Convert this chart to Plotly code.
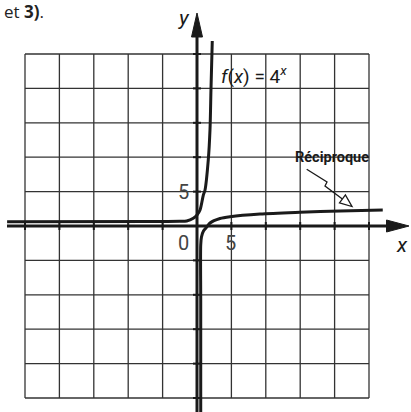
import plotly.graph_objects as go

# ---- data (1 grid cell = 5 units) ----
grid_ticks = [-25, -20, -15, -10, -5, 0, 5, 10, 15, 20, 25]

exp_x = [-27.6, -6.8, -2.5, -1.5, -0.54, 0.0, 0.44, 0.92, 1.16, 1.64, 1.89, 2.03, 2.22]
exp_y = [0.63, 0.65, 0.68, 0.73, 1.12, 1.6, 2.33, 4.5, 5.2, 9.6, 14.0, 19.8, 26.9]

rec_x = [0.54, 0.54, 0.54, 0.65, 0.94, 1.41, 1.89, 3.34, 4.8, 9.16, 14.97, 20.8, 27.0]
rec_y = [-27.5, -10.8, -2.76, -1.6, -0.73, -0.15, 0.44, 1.09, 1.35, 1.74, 1.99, 2.18, 2.33]

tick_labels = [("5", -2.0, 5.0), ("0", -2.0, -2.5), ("5", 4.9, -2.5)]

W, H = 411, 412
X0PX, Y0PX, PXU = 197.0, 226.0, 6.88  # origin pixel and pixels per unit
xr = [-X0PX / PXU, (W - X0PX) / PXU]
yr = [-(H - Y0PX) / PXU, Y0PX / PXU]


def px2x(p):
    return (p - X0PX) / PXU


def py2y(p):
    return (Y0PX - p) / PXU


INK = "#1a1a1a"
GRID = "#333333"
NARROW = "Roboto, Liberation Sans, sans-serif"

fig = go.Figure()

shapes = []
# grid
for t in grid_ticks:
    shapes.append(dict(type="line", x0=t, x1=t, y0=grid_ticks[0], y1=grid_ticks[-1],
                       line=dict(color=GRID, width=1.3), layer="below"))
    shapes.append(dict(type="line", y0=t, y1=t, x0=grid_ticks[0], x1=grid_ticks[-1],
                       line=dict(color=GRID, width=1.3), layer="below"))

# axes
shapes.append(dict(type="line", x0=px2x(7), x1=px2x(392), y0=0, y1=0,
                   line=dict(color=INK, width=3)))
shapes.append(dict(type="line", x0=0, x1=0, y0=yr[0] - 1, y1=py2y(30),
                   line=dict(color=INK, width=3)))
# small ticks on axes
for t in grid_ticks:
    if t == 0:
        continue
    shapes.append(dict(type="line", x0=t, x1=t, y0=py2y(222), y1=py2y(230),
                       line=dict(color=INK, width=2)))
    shapes.append(dict(type="line", y0=t, y1=t, x0=px2x(193), x1=px2x(201),
                       line=dict(color=INK, width=2)))


def tri(pts):
    return "M " + " L ".join(f"{px2x(a)},{py2y(b)}" for a, b in pts) + " Z"


# arrowheads (filled)
shapes.append(dict(type="path", path=tri([(386.5, 220), (409, 226), (386.5, 232)]),
                   fillcolor=INK, line=dict(color=INK, width=1)))
shapes.append(dict(type="path", path=tri([(191.5, 37), (197, 13), (202.5, 37)]),
                   fillcolor=INK, line=dict(color=INK, width=1)))

# lightning arrow for "Réciproque"
bolt = [(306.7, 169.3), (327, 182), (325, 186), (342.4, 198.9)]
shapes.append(dict(type="path",
                   path="M " + " L ".join(f"{px2x(a)},{py2y(b)}" for a, b in bolt),
                   line=dict(color=INK, width=1.3)))
shapes.append(dict(type="path", path=tri([(339.5, 202.9), (352, 206.5), (345.4, 194.9)]),
                   fillcolor="white", line=dict(color=INK, width=1.3)))

fig.add_trace(go.Scatter(x=exp_x, y=exp_y, mode="lines",
                         line=dict(color=INK, width=3, shape="spline", smoothing=0.8),
                         hoverinfo="skip", showlegend=False))
fig.add_trace(go.Scatter(x=rec_x, y=rec_y, mode="lines",
                         line=dict(color=INK, width=3, shape="spline", smoothing=0.8),
                         hoverinfo="skip", showlegend=False))

annotations = []
for txt, x, y in tick_labels:
    annotations.append(dict(x=x, y=y, text=txt, showarrow=False,
                            font=dict(family=NARROW, size=20, color="#444444")))
annotations.append(dict(x=px2x(184), y=py2y(18), text="<i>y</i>", showarrow=False,
                        font=dict(family=NARROW, size=21, color=INK)))
annotations.append(dict(xref="paper", yref="paper", x=410 / W, y=1 - 245 / H,
                        xanchor="right", yanchor="middle",
                        text="<i>x</i>", showarrow=False,
                        font=dict(family=NARROW, size=21, color=INK)))
annotations.append(dict(x=px2x(254), y=py2y(75),
                        text="<i>f</i>(<i>x</i>) = 4<sup><i>x</i></sup>", showarrow=False,
                        font=dict(family=NARROW, size=19, color=INK)))
annotations.append(dict(x=px2x(332), y=py2y(157), text="<b>Réciproque</b>", showarrow=False,
                        font=dict(family=NARROW, size=14.5, color=INK)))
annotations.append(dict(xref="paper", yref="paper", x=46 / W, y=1 - 12 / H,
                        xanchor="right", yanchor="middle",
                        text="et <b>3)</b>.", showarrow=False,
                        font=dict(family="Open Sans, Noto Sans, sans-serif", size=17, color="#222222")))

fig.update_layout(
    width=W, height=H,
    margin=dict(l=0, r=0, t=0, b=0),
    paper_bgcolor="white", plot_bgcolor="white",
    xaxis=dict(range=xr, visible=False, fixedrange=True),
    yaxis=dict(range=yr, visible=False, fixedrange=True),
    shapes=shapes, annotations=annotations,
    showlegend=False,
)

fig.write_html("out.html", config={"displayModeBar": False},
               post_script="document.body.style.margin='0';document.body.style.overflow='hidden';")
